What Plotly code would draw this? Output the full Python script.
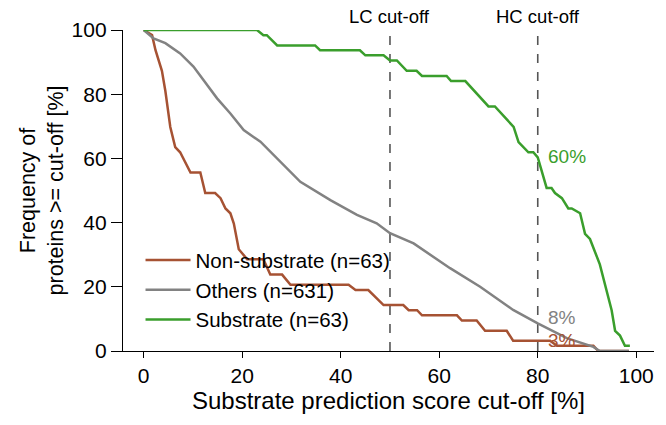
import plotly.graph_objects as go

# ---------------- data ----------------
nonsub_x = [0, 1.7, 2.4, 3.7, 4.4, 5.4, 6.4, 7.4, 9.5, 11.5, 12.5, 14.5, 15.6, 16.6, 17.6, 18.3,
            19.3, 21, 24.3, 25.7, 28.1, 29.8, 41.6, 43, 45.6, 48.7, 52.7, 53.8, 55.5, 56.5,
            63.6, 64.6, 67.6, 69.3, 73.7, 75, 82.5, 83.9, 91.3, 92.3, 98.5]
nonsub_y = [100, 98.4, 93.7, 87.3, 81.0, 69.8, 63.5, 61.9, 55.6, 55.6, 49.2, 49.2, 47.6, 44.4, 42.9, 39.7,
            31.7, 28.6, 28.6, 23.8, 23.8, 20.6, 20.6, 19.0, 19.0, 14.3, 14.3, 12.7, 12.7, 11.1,
            11.1, 9.5, 9.5, 6.3, 6.3, 3.2, 3.2, 1.6, 1.6, 0, 0]

others_x = [0, 2, 4.4, 7.4, 10.1, 12.9, 14.9, 17.6, 20.3, 23.7, 27.1, 31.8, 37.9, 43.3, 47.3,
            50, 54.8, 62.2, 68.3, 75, 80, 85.9, 91.3, 92.6, 98.5]
others_y = [100, 97.4, 95.9, 92.7, 88.6, 82.9, 78.7, 74, 68.8, 65.2, 60, 52.7, 47, 42.4, 39.8,
            36.7, 33.5, 25.8, 20, 12.8, 8.6, 4, 1.3, 0, 0]

sub_x = [0, 23, 24.3, 25, 27.1, 34.8, 35.8, 43.9, 45, 48.7, 50, 51.4, 53.4, 55.4, 56.5, 61.5,
         62.4, 65.3, 70, 71.3, 75.1, 76.1, 78.1, 79.1, 80, 81.1, 81.8, 82.8, 83.5, 84.9, 86.2,
         86.9, 88.6, 89.6, 90.6, 92.6, 95, 95.7, 96.7, 97.7, 98.7]
sub_y = [100, 100, 98.4, 98.4, 95.2, 95.2, 93.7, 93.7, 92.1, 92.1, 90.5, 90.5, 87.3, 87.3, 85.7, 85.7,
         84.1, 84.1, 76.2, 76.2, 69.8, 65.1, 61.9, 61.9, 60.3, 54.0, 50.8, 50.8, 49.2, 47.6, 44.4,
         44.4, 42.9, 36.5, 34.9, 27.0, 12.7, 6.3, 4.8, 1.6, 1.6]

series_names = ["Non-substrate (n=63)", "Others (n=631)", "Substrate (n=63)"]
series_colors = ["#a65233", "#828282", "#3a9e2c"]

cutoff_x = [50, 80]
cutoff_labels = ["LC cut-off", "HC cut-off"]

end_label_x = 81.6
end_label_y = [60.5, 10.4, 3.2]
end_label_text = ["60%", "8%", "3%"]
end_label_colors = ["#3a9e2c", "#828282", "#a65233"]

x_ticks = [0, 20, 40, 60, 80, 100]
y_ticks = [0, 20, 40, 60, 80, 100]

FONT = "Liberation Sans, Arial, sans-serif"

# ---------------- figure ----------------
fig = go.Figure()
for i, (xs, ys) in enumerate([(nonsub_x, nonsub_y), (others_x, others_y), (sub_x, sub_y)]):
    fig.add_trace(go.Scatter(x=xs, y=ys, mode="lines", name=series_names[i],
                             legendgroup=f"g{i}",
                             line=dict(color=series_colors[i], width=2.5)))

for cx, lab in zip(cutoff_x, cutoff_labels):
    fig.add_shape(type="line", x0=cx, x1=cx, y0=0, y1=100, xref="x", yref="y",
                  line=dict(color="#555555", width=1.6, dash="dash"), layer="below")
    fig.add_annotation(x=cx, y=100, xref="x", yref="y", text=lab, showarrow=False,
                       yanchor="bottom", yshift=1, font=dict(family=FONT, size=18.5, color="black"))

for t, yv, c in zip(end_label_text, end_label_y, end_label_colors):
    fig.add_annotation(x=end_label_x, y=yv, xref="x", yref="y", text=t, showarrow=False,
                       xanchor="left", yanchor="middle", font=dict(family=FONT, size=19, color=c))

axis_common = dict(showgrid=False, zeroline=False, showline=True, linecolor="black",
                   linewidth=1.3, ticks="outside", tickwidth=1.3, tickcolor="black",
                   tickfont=dict(family=FONT, size=21, color="black"))

fig.update_layout(
    width=666, height=425,
    margin=dict(l=123, r=12, t=30, b=74),
    paper_bgcolor="white", plot_bgcolor="white",
    font=dict(family=FONT, color="black"),
    xaxis=dict(range=[-4.2, 103.6], tickvals=x_ticks, ticklen=6,
               title=dict(text="Substrate prediction score cut-off [%]",
                          font=dict(family=FONT, size=24), standoff=4),
               **axis_common),
    yaxis=dict(range=[0, 100], tickvals=y_ticks, ticklen=11,
               title=dict(text="Frequency of<br>proteins >= cut-off [%]",
                          font=dict(family=FONT, size=21.5), standoff=2),
               **axis_common),
    legend=dict(x=0.033, y=0.345, xanchor="left", yanchor="top",
                bgcolor="rgba(0,0,0,0)", itemwidth=45, tracegroupgap=0,
                font=dict(family=FONT, size=20.5, color="black")),
    showlegend=True,
)

fig.write_html("out.html")
